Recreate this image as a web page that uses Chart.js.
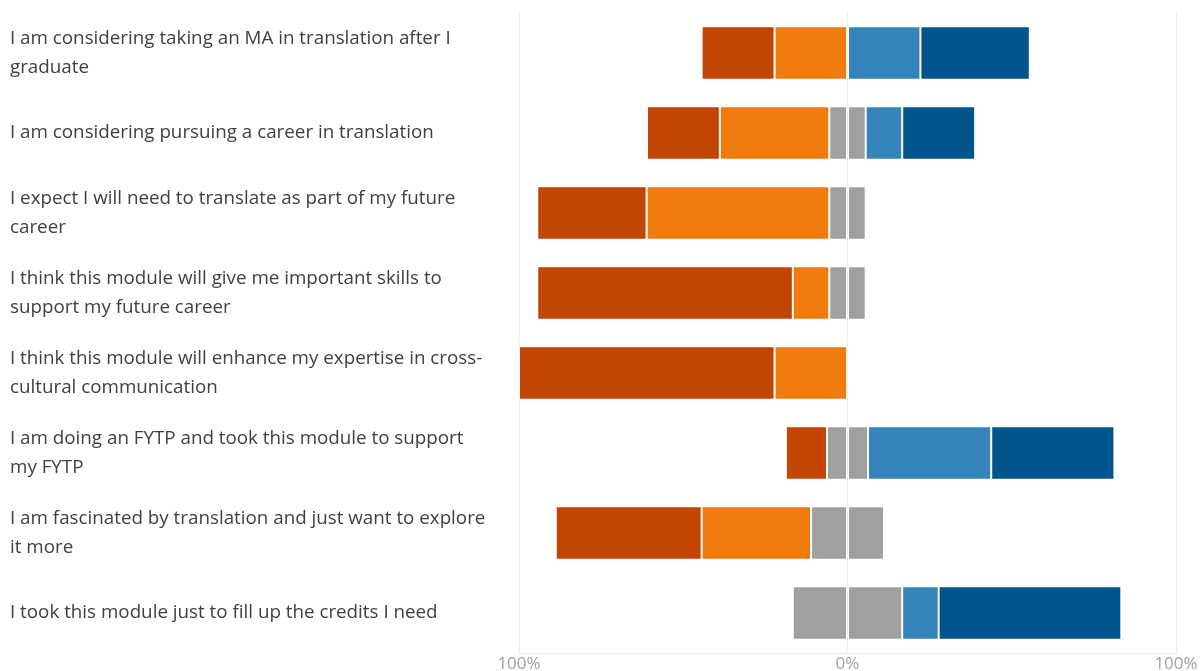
<!DOCTYPE html>
<html>
<head>
<meta charset="utf-8">
<script src="https://cdn.jsdelivr.net/npm/chart.js@4/dist/chart.umd.min.js"></script>
<style>
html,body{margin:0;padding:0;background:#fff;}
#wrap{width:1203px;height:671px;}
</style>
</head>
<body>
<div id="wrap"><canvas id="c" width="1203" height="671"></canvas></div>
<script>
const categories = [
  ["I am considering taking an MA in translation after I", "graduate"],
  "I am considering pursuing a career in translation",
  ["I expect I will need to translate as part of my future", "career"],
  ["I think this module will give me important skills to", "support my future career"],
  ["I think this module will enhance my expertise in cross-", "cultural communication"],
  ["I am doing an FYTP and took this module to support", "my FYTP"],
  ["I am fascinated by translation and just want to explore", "it more"],
  "I took this module just to fill up the credits I need"
];
const stronglyDisagree = [22.2, 22.2, 33.3, 77.8, 77.8, 12.5, 44.4, 0];
const disagree         = [22.2, 33.3, 55.6, 11.1, 22.2, 0, 33.3, 0];
const neutral          = [0, 11.1, 11.1, 11.1, 0, 12.5, 22.2, 33.3];
const agree            = [22.2, 11.1, 0, 0, 0, 37.5, 0, 11.1];
const stronglyAgree    = [33.3, 22.2, 0, 0, 0, 37.5, 0, 55.6];
const xTicks = [-100, 0, 100];

const border = 'rgba(255,255,255,0.16)';
function ds(label, data, color){
  return {label, data, backgroundColor: color, borderColor: border, borderWidth: 1, borderSkipped: false};
}
new Chart(document.getElementById('c'), {
  type: 'bar',
  data: {
    labels: categories,
    datasets: [
      ds('Neutral (left)', neutral.map(v => -v/2), '#a0a0a0'),
      ds('Neutral (right)', neutral.map(v => v/2), '#a0a0a0'),
      ds('Disagree', disagree.map(v => -v), '#ee7b0b'),
      ds('Agree', agree, '#3584b9'),
      ds('Strongly disagree', stronglyDisagree.map(v => -v), '#c24504'),
      ds('Strongly agree', stronglyAgree, '#02558c')
    ]
  },
  options: {
    indexAxis: 'y',
    responsive: false,
    animation: false,
    layout: {padding: {left: 10, top: 13, right: 27, bottom: 0}},
    datasets: {bar: {categoryPercentage: 1, barPercentage: 0.67}},
    plugins: {legend: {display: false}, tooltip: {enabled: false}},
    scales: {
      x: {
        stacked: true,
        min: -100, max: 100,
        afterBuildTicks: s => { s.ticks = xTicks.map(v => ({value: v})); },
        afterFit: s => { s.height = 18; s.paddingLeft = 0; s.paddingRight = 0; },
        grid: {color: '#ededed', drawTicks: false},
        border: {display: true, color: '#ededed'},
        ticks: {
          padding: 1,
          color: '#a0a0a0',
          maxRotation: 0,
          font: {family: 'Open Sans', size: 17},
          callback: v => Math.abs(v) + '%'
        }
      },
      y: {
        stacked: true,
        afterFit: s => { s.width = 509; s.paddingTop = 0; s.paddingBottom = 0; },
        grid: {display: false},
        border: {display: false},
        ticks: {
          crossAlign: 'far',
          color: '#404040',
          font: {family: 'Open Sans', size: 18.8, lineHeight: 1.55}
        }
      }
    }
  }
});
</script>
</body>
</html>
